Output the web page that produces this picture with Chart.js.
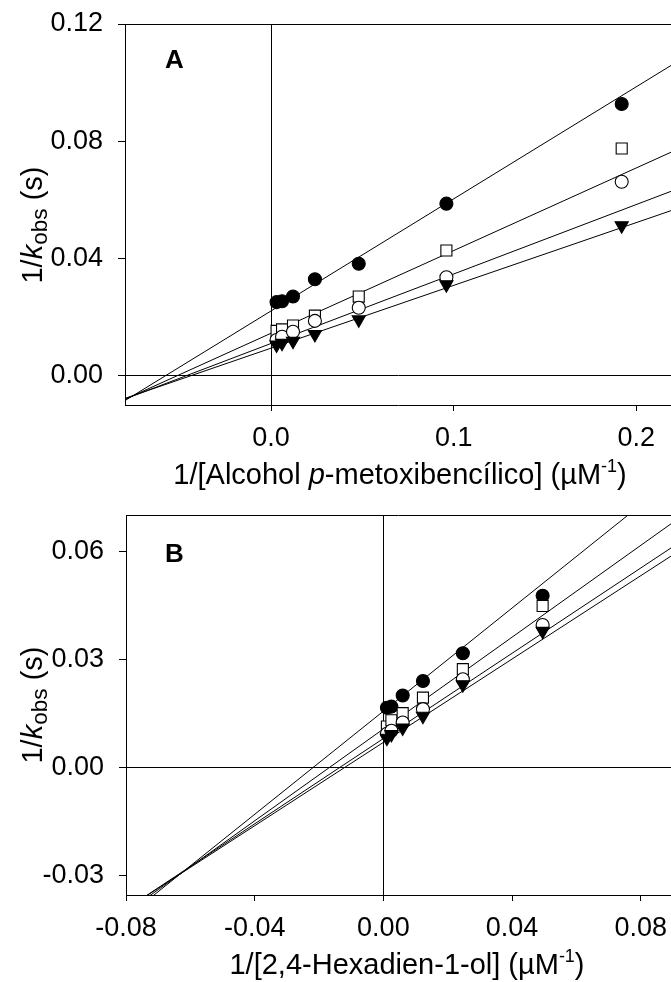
<!DOCTYPE html>
<html>
<head>
<meta charset="utf-8">
<script src="https://cdn.jsdelivr.net/npm/chart.js@4.4.1/dist/chart.umd.min.js"></script>
<style>
  html, body { margin: 0; padding: 0; background: #fff; overflow: hidden; }
  #wrap { position: relative; width: 671px; height: 982px; }
  canvas { position: absolute; left: 0; }
  #chartA { top: 0; }
  #chartB { top: 490px; }
</style>
</head>
<body>
<div id="wrap">
  <canvas id="chartA" width="671" height="490"></canvas>
  <canvas id="chartB" width="671" height="492"></canvas>
</div>
<script>
// ---- Panel A: 1/kobs vs 1/[p-methoxybenzyl alcohol] ----
const xA = [0.003, 0.006, 0.012, 0.024, 0.048, 0.096, 0.192];
const yA_filledCircle = [0.0251, 0.0254, 0.0270, 0.0329, 0.0382, 0.0587, 0.0927];
const yA_openSquare   = [0.0153, 0.0158, 0.0171, 0.0205, 0.0270, 0.0427, 0.0775];
const yA_openCircle   = [0.0122, 0.0133, 0.0150, 0.0187, 0.0232, 0.0336, 0.0662];
const yA_triangle     = [0.0105, 0.0111, 0.0118, 0.0141, 0.0191, 0.0311, 0.0512];
// linear fits (intercept, slope) for each series, same order as above
const fitA_intercept = [0.0221, 0.01449, 0.0110, 0.0094];
const fitA_slope     = [0.3824, 0.2820, 0.2370, 0.2142];
const xRangeA = [-0.08, 0.219];
const yRangeA = [-0.01, 0.12];
const xTicksA = [0, 0.1, 0.2];
const yTicksA = [0, 0.04, 0.08, 0.12];

// ---- Panel B: 1/kobs vs 1/[2,4-hexadien-1-ol] ----
const xB = [0.0011, 0.0025, 0.006, 0.0123, 0.0247, 0.0495];
const yB_filledCircle = [0.0166, 0.0169, 0.0200, 0.0240, 0.0317, 0.0476];
const yB_openSquare   = [0.0114, 0.0131, 0.0151, 0.0194, 0.0273, 0.0448];
const yB_openCircle   = [0.0094, 0.0102, 0.0125, 0.0162, 0.0245, 0.0395];
const yB_triangle     = [0.0082, 0.0092, 0.0110, 0.0143, 0.0230, 0.0378];
const fitB_intercept = [0.01564, 0.0107, 0.00805, 0.00699];
const fitB_slope     = [0.7145, 0.636, 0.5908, 0.5774];
const xRangeB = [-0.08, 0.0894];
const yRangeB = [-0.0353, 0.07];
const xTicksB = [-0.08, -0.04, 0, 0.04, 0.08];
const yTicksB = [-0.03, 0, 0.03, 0.06];

const FONT = '"Liberation Sans", Arial, Helvetica, sans-serif';
const TICK_SIZE = 27;
const TITLE_SIZE = 29;
const YTITLE_SIZE = 29;

// marker look for the four series
const markers = [
  { pointStyle: 'circle',   radius: 6.5, bg: '#000', rotation: 0,   order: 3 },
  { pointStyle: 'rect',     radius: 7.8, bg: '#fff', rotation: 0,   order: 2 },
  { pointStyle: 'circle',   radius: 6.5, bg: '#fff', rotation: 0,   order: 1 },
  { pointStyle: 'triangle', radius: 7.6, bg: '#000', rotation: 180, order: 0 }
];

function buildDatasets(xs, series, intercepts, slopes, xr) {
  const ds = [];
  intercepts.forEach((b, i) => {
    ds.push({
      data: xr.map(x => ({ x, y: b + slopes[i] * x })),
      showLine: true, borderColor: '#000', borderWidth: 1,
      pointRadius: 0, pointHoverRadius: 0, fill: false, order: 10
    });
  });
  series.forEach((ys, i) => {
    const m = markers[i];
    ds.push({
      data: xs.map((x, j) => ({ x, y: ys[j] })),
      showLine: false,
      pointStyle: m.pointStyle, pointRadius: m.radius, pointHoverRadius: m.radius,
      rotation: m.rotation,
      backgroundColor: m.bg, borderColor: '#000', borderWidth: 1.1,
      order: m.order
    });
  });
  return ds;
}

function gridColor(c) {
  return (c.tick && Math.abs(c.tick.value) < 1e-12) ? '#000' : 'rgba(0,0,0,0)';
}

function buildScales(xr, yr, xt, yt, xDigits, yDigits, axisW, axisH) {
  return {
    x: {
      type: 'linear', min: xr[0], max: xr[1],
      afterBuildTicks: s => { s.ticks = xt.map(v => ({ value: v })); },
      afterFit: s => { s.height = axisH; s.paddingLeft = 0; s.paddingRight = 0; },
      ticks: {
        font: { family: FONT, size: TICK_SIZE }, color: '#000', padding: 11,
        autoSkip: false, maxRotation: 0, minRotation: 0,
        callback: v => Number(v).toFixed(xDigits)
      },
      grid: { color: gridColor, lineWidth: 1, tickLength: 6, tickColor: '#000', tickWidth: 1 },
      border: { display: true, color: '#000', width: 1 }
    },
    y: {
      type: 'linear', min: yr[0], max: yr[1],
      afterBuildTicks: s => { s.ticks = yt.map(v => ({ value: v })); },
      afterFit: s => { s.width = axisW; s.paddingTop = 0; s.paddingBottom = 0; },
      ticks: {
        font: { family: FONT, size: TICK_SIZE }, color: '#000', padding: 15,
        autoSkip: false,
        callback: v => Number(v).toFixed(yDigits)
      },
      grid: { color: gridColor, lineWidth: 1, tickLength: 7, tickColor: '#000', tickWidth: 1 },
      border: { display: true, color: '#000', width: 1 }
    }
  };
}

// draws a run of text pieces (italic / subscript / superscript) centred on cx
function drawRich(ctx, pieces, size, cx, baseY) {
  const fontOf = p => {
    const s = p.sub || p.sup ? size * (p.sub ? 0.78 : 0.62) : size;
    return `${p.italic ? 'italic ' : ''}${s}px ${FONT}`;
  };
  let total = 0;
  pieces.forEach(p => { ctx.font = fontOf(p); total += ctx.measureText(p.t).width; });
  let x = cx - total / 2;
  ctx.textAlign = 'left';
  ctx.textBaseline = 'alphabetic';
  pieces.forEach(p => {
    ctx.font = fontOf(p);
    const dy = p.sub ? size * 0.18 : (p.sup ? -size * 0.42 : 0);
    ctx.fillText(p.t, x, baseY + dy);
    x += ctx.measureText(p.t).width;
  });
}

const yTitle = [{ t: '1/' }, { t: 'k', italic: true }, { t: 'obs', sub: true }, { t: ' (s)' }];
const xTitleA = [{ t: '1/[Alcohol ' }, { t: 'p', italic: true }, { t: '-metoxibencílico] (µM' }, { t: '-1', sup: true }, { t: ')' }];
const xTitleB = [{ t: '1/[2,4-Hexadien-1-ol] (µM' }, { t: '-1', sup: true }, { t: ')' }];

const panelDecor = {
  id: 'panelDecor',
  afterDraw(chart, args, o) {
    const { ctx, chartArea: a } = chart;
    ctx.save();
    // upper frame edge
    ctx.strokeStyle = '#000';
    ctx.lineWidth = 1;
    ctx.beginPath();
    ctx.moveTo(a.left, Math.round(a.top) + 0.5);
    ctx.lineTo(a.right, Math.round(a.top) + 0.5);
    ctx.stroke();
    ctx.fillStyle = '#000';
    // panel letter
    ctx.font = `bold 26px ${FONT}`;
    ctx.textAlign = 'left';
    ctx.textBaseline = 'alphabetic';
    ctx.fillText(o.letter, o.letterX, o.letterY);
    // x axis title
    drawRich(ctx, o.xTitle, TITLE_SIZE, o.xTitleX, o.xTitleY);
    // y axis title, rotated
    ctx.translate(o.yTitleX, o.yTitleY);
    ctx.rotate(-Math.PI / 2);
    drawRich(ctx, yTitle, YTITLE_SIZE, 0, 0);
    ctx.restore();
  }
};

function makeChart(id, xs, series, fi, fs, xr, yr, xt, yt, xDigits, yDigits, axisW, axisH, padTop, decor) {
  return new Chart(document.getElementById(id), {
    type: 'scatter',
    data: { datasets: buildDatasets(xs, series, fi, fs, xr) },
    options: {
      responsive: false, animation: false, devicePixelRatio: 1,
      events: [],
      layout: { autoPadding: false, padding: { top: padTop, left: 0, right: 0, bottom: 0 } },
      plugins: { legend: { display: false }, tooltip: { enabled: false }, panelDecor: decor },
      scales: buildScales(xr, yr, xt, yt, xDigits, yDigits, axisW, axisH)
    },
    plugins: [panelDecor]
  });
}

makeChart('chartA', xA, [yA_filledCircle, yA_openSquare, yA_openCircle, yA_triangle],
  fitA_intercept, fitA_slope, xRangeA, yRangeA, xTicksA, yTicksA, 1, 2, 125, 85, 24,
  { letter: 'A', letterX: 165, letterY: 68, xTitle: xTitleA, xTitleX: 400, xTitleY: 484,
    yTitleX: 42, yTitleY: 225 });

makeChart('chartB', xB, [yB_filledCircle, yB_openSquare, yB_openCircle, yB_triangle],
  fitB_intercept, fitB_slope, xRangeB, yRangeB, xTicksB, yTicksB, 2, 2, 126, 87, 25,
  { letter: 'B', letterX: 165, letterY: 72, xTitle: xTitleB, xTitleX: 407, xTitleY: 484,
    yTitleX: 42, yTitleY: 215 });
</script>
</body>
</html>
